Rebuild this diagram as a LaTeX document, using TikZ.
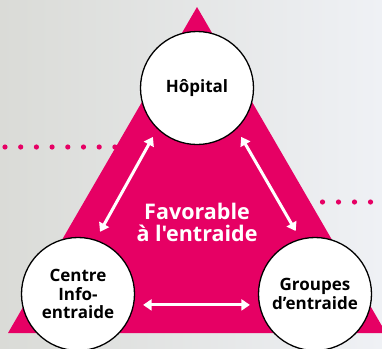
\documentclass[tikz,border=0pt]{standalone}
\usepackage{fontspec}
\newfontfamily\osf{Open Sans}
\usetikzlibrary{arrows.meta}
\definecolor{mag}{RGB}{230,0,100}
\definecolor{bgl}{RGB}{218,219,215}
\definecolor{bgr}{RGB}{239,241,245}
\tikzset{
  circ/.style={circle, draw=black, line width=1.3pt, fill=white, minimum size=113pt, inner sep=0pt, align=center, font=\osf\bfseries\fontsize{17}{18.5}\selectfont},
  dbl/.style={draw=white, line width=3pt, {Triangle[width=11pt,length=8.5pt]}-{Triangle[width=11pt,length=8.5pt]}, shorten <=9pt, shorten >=9pt},
  dot/.style={fill=mag, draw=none}
}
\begin{document}
\begin{tikzpicture}[x=1pt,y=-1pt]
\useasboundingbox (0,0) rectangle (382,348);
\shade[left color=bgl, right color=bgr] (0,0) rectangle (382,348);
% dotted lines
\foreach \x in {5,20.7,...,116} \fill[dot] (\x,147) circle (2.6);
\foreach \x in {306.5,322.5,...,375} \fill[dot] (\x,202) circle (2.6);
% triangle
\fill[mag] (197,7) -- (386,333) -- (8,333) -- cycle;
% circles
\node[circ] (hop) at (197,88) {Hôpital};
\node[circ] (cen) at (78,294) {Centre\\Info-\\entraide};
\node[circ] (grp) at (315,294) {Groupes\\d’entraide};
% central text
\node[text=white, align=center, font=\osf\bfseries\fontsize{21.5}{22}\selectfont] (fav) at (197,222) {Favorable\\à l'entraide};
% arrows
\draw[dbl] (hop.226) -- (cen.72);
\draw[dbl] (hop.314) -- (grp.105);
\draw[dbl] (cen.349) -- (grp.191);
\end{tikzpicture}
\end{document}
